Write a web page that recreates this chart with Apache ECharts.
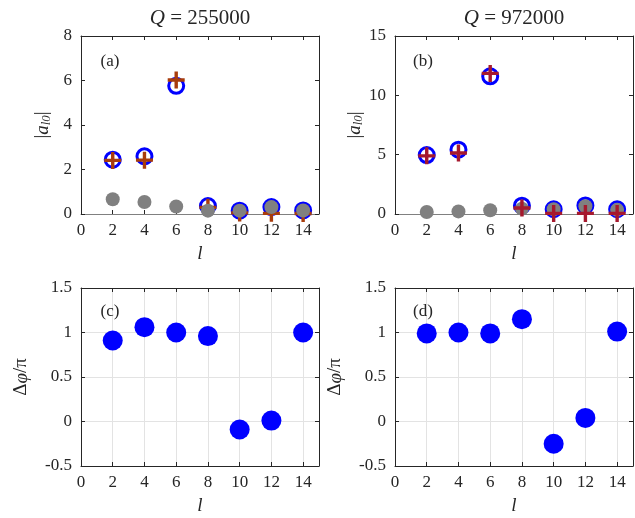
<!DOCTYPE html>
<html lang="en">
<head>
    <meta charset="UTF-8">
    <title>amplitude and phase</title>
    <script src="https://cdn.jsdelivr.net/npm/echarts@6/dist/echarts.min.js"></script>
    <style>
        html, body { margin: 0; padding: 0; background: #fff; }
        #chart { width: 635px; height: 518px; }
    </style>
</head>
<body>
<div id="chart"></div>
<script>
    // l values on the x axis
    const lValues = [2, 4, 6, 8, 10, 12, 14];
    const titles = ['255000', '972000'];

    // |a_l0| panel (a), Q = 255000
    const circleA = [2.44, 2.59, 5.76, 0.36, 0.15, 0.31, 0.16];
    const crossA = [2.41, 2.42, 6.02, 0.3, 0.05, 0.03, 0.02];
    const grayA = [0.66, 0.54, 0.34, 0.15, 0.15, 0.31, 0.16];

    // |a_l0| panel (b), Q = 972000
    const circleB = [4.97, 5.42, 11.6, 0.7, 0.4, 0.72, 0.4];
    const crossB = [4.9, 5.14, 11.85, 0.5, 0.05, 0.05, 0.05];
    const grayB = [0.17, 0.22, 0.31, 0.45, 0.4, 0.65, 0.35];

    // delta phi / pi, panels (c) and (d)
    const phaseC = [0.91, 1.06, 1.0, 0.96, -0.09, 0.01, 1.0];
    const phaseD = [0.99, 1.0, 0.99, 1.15, -0.25, 0.04, 1.01];

    const serif = '"Liberation Serif", "DejaVu Serif", serif';
    const dark = '#262626';
    const plusPath = 'path://M4,0h2v4h4v2h-4v4h-2v-4h-4v-2h4z';

    const pairs = arr => lValues.map((l, i) => [l, arr[i]]);

    let chart = echarts.init(document.getElementById('chart'));

    const grids = [
        {left: 81, top: 36, width: 238, height: 178},
        {left: 395, top: 36, width: 238, height: 178},
        {left: 81, top: 288, width: 238, height: 178},
        {left: 395, top: 288, width: 238, height: 178}
    ];

    const yRanges = [
        {min: 0, max: 8, interval: 2},
        {min: 0, max: 15, interval: 5},
        {min: -0.5, max: 1.5, interval: 0.5},
        {min: -0.5, max: 1.5, interval: 0.5}
    ];

    let xAxes = [], yAxes = [];
    grids.forEach((g, i) => {
        const lower = i >= 2;
        xAxes.push({
            type: 'value', gridIndex: i, min: 0, max: 15, interval: 2,
            position: 'bottom',
            name: 'l', nameLocation: 'middle', nameGap: 30,
            nameTextStyle: {fontFamily: serif, fontStyle: 'italic', fontSize: 19, color: dark},
            axisLine: {onZero: false, lineStyle: {color: lower ? dark : '#808080', width: 1}},
            axisTick: {inside: true, length: 4, lineStyle: {color: dark}},
            axisLabel: {showMaxLabel: false, fontFamily: serif, fontSize: 17, color: dark, margin: 8},
            splitLine: {show: lower, lineStyle: {color: '#e3e3e3'}}
        });
        xAxes.push({
            type: 'value', gridIndex: i, min: 0, max: 15, interval: 2,
            position: 'top',
            axisLine: {onZero: false, lineStyle: {color: dark}},
            axisTick: {inside: true, length: 4, lineStyle: {color: dark}},
            axisLabel: {show: false},
            splitLine: {show: false}
        });
        const yName = lower
            ? '{u|Δ}{i|φ}{u|/π}'
            : '{u||}{i|a}{s|l0}{u||}';
        yAxes.push({
            type: 'value', gridIndex: i,
            min: yRanges[i].min, max: yRanges[i].max, interval: yRanges[i].interval,
            position: 'left',
            name: yName, nameLocation: 'middle', nameGap: lower ? 50 : 28, nameRotate: 90,
            nameTextStyle: {
                fontFamily: serif, fontSize: 19, color: dark,
                rich: {
                    u: {fontFamily: serif, fontSize: 19, color: dark},
                    i: {fontFamily: serif, fontSize: 19, fontStyle: 'italic', color: dark},
                    s: {fontFamily: serif, fontSize: 13, fontStyle: 'italic', color: dark, verticalAlign: 'bottom', padding: [8, 0, 0, 0]}
                }
            },
            axisLine: {onZero: false, lineStyle: {color: dark}},
            axisTick: {inside: true, length: 4, lineStyle: {color: dark}},
            axisLabel: {fontFamily: serif, fontSize: 17, color: dark, margin: 9},
            splitLine: {show: lower, lineStyle: {color: '#e3e3e3'}}
        });
        yAxes.push({
            type: 'value', gridIndex: i,
            min: yRanges[i].min, max: yRanges[i].max, interval: yRanges[i].interval,
            position: 'right',
            axisLine: {onZero: false, lineStyle: {color: dark}},
            axisTick: {inside: true, length: 4, lineStyle: {color: dark}},
            axisLabel: {show: false},
            splitLine: {show: false}
        });
    });

    function circles(panel, arr, z) {
        return {
            type: 'scatter', xAxisIndex: panel * 2, yAxisIndex: panel * 2,
            symbol: 'circle', symbolSize: 15, z: z, silent: true,
            itemStyle: {color: 'rgba(0,0,0,0)', borderColor: '#0000ff', borderWidth: 3, opacity: 1},
            data: pairs(arr)
        };
    }
    function crosses(panel, arr, color, z) {
        return {
            type: 'scatter', xAxisIndex: panel * 2, yAxisIndex: panel * 2,
            symbol: plusPath, symbolSize: 17, z: z, silent: true, clip: false,
            itemStyle: {color: color, opacity: 1},
            data: pairs(arr)
        };
    }
    function dots(panel, arr, color, size, z) {
        return {
            type: 'scatter', xAxisIndex: panel * 2, yAxisIndex: panel * 2,
            symbol: 'circle', symbolSize: size, z: z, silent: true,
            itemStyle: {color: color, opacity: 1},
            data: pairs(arr)
        };
    }

    const panelLabels = [
        {t: '(a)', x: 110, y: 62},
        {t: '(b)', x: 423, y: 62},
        {t: '(c)', x: 110, y: 312},
        {t: '(d)', x: 423, y: 312}
    ];

    chart.setOption({
        backgroundColor: '#fff',
        animation: false,
        grid: grids,
        xAxis: xAxes,
        yAxis: yAxes,
        graphic: [
            ...titles.map((q, i) => ({
                type: 'text', x: i === 0 ? 200 : 514, y: 18,
                style: {
                    text: '{i|Q}{u| = ' + q + '}', align: 'center', verticalAlign: 'middle',
                    fontFamily: serif, fontSize: 21, fill: dark,
                    rich: {
                        i: {fontStyle: 'italic', fontFamily: serif, fontSize: 21, fill: dark},
                        u: {fontFamily: serif, fontSize: 21, fill: dark}
                    }
                }
            })),
            ...panelLabels.map(p => ({
                type: 'text', x: p.x, y: p.y, z: 10,
                style: {text: p.t, align: 'center', verticalAlign: 'middle', fontFamily: serif, fontSize: 17, fill: dark}
            }))
        ],
        series: [
            circles(0, circleA, 2),
            crosses(0, crossA, '#a83c0c', 3),
            dots(0, grayA, '#808080', 14, 4),
            circles(1, circleB, 2),
            dots(1, grayB, '#808080', 14, 3),
            crosses(1, crossB, '#a6192e', 4),
            dots(2, phaseC, '#0000ff', 20, 2),
            dots(3, phaseD, '#0000ff', 20, 2)
        ]
    });
</script>
</body>
</html>
